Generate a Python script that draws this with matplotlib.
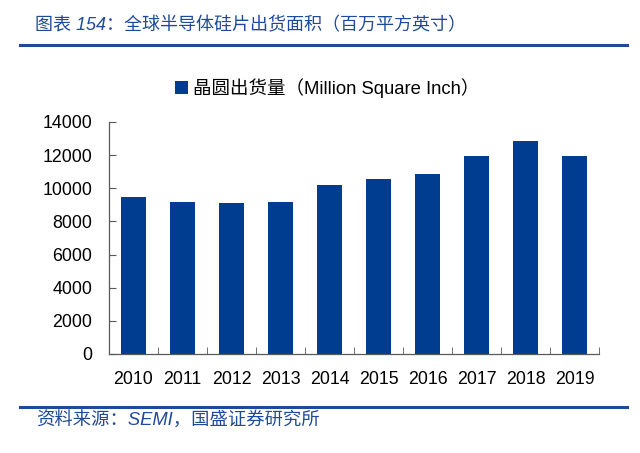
import numpy as np
import matplotlib
matplotlib.use("Agg")
import matplotlib.pyplot as plt
from matplotlib.lines import Line2D

years = ["2010", "2011", "2012", "2013", "2014", "2015", "2016", "2017", "2018", "2019"]
shipments = [9470, 9170, 9120, 9170, 10190, 10560, 10860, 11920, 12830, 11920]
yticks = [0, 2000, 4000, 6000, 8000, 10000, 12000, 14000]

title = "图表 154：全球半导体硅片出货面积（百万平方英寸）"
legend_label = "晶圆出货量（Million Square Inch）"
source = "资料来源：SEMI，国盛证券研究所"

fonts = ["Liberation Sans", "Noto Sans CJK SC"]
bar_color = "#003D91"
blue = "#1F4A9A"

fig = plt.figure(figsize=(6.4, 4.53), dpi=100)
ax = fig.add_axes([109 / 640, 1 - 354 / 453, 490 / 640, 232 / 453])

x = np.arange(len(years))
ax.bar(x, shipments, width=0.49, color=bar_color, label=legend_label)

ax.set_xlim(-0.5, len(years) - 0.5)
ax.set_ylim(0, 14000)
ax.set_yticks(yticks)
ax.set_xticks(x)
ax.set_xticklabels(years)
ax.set_xticks(np.arange(-0.5, len(years), 1), minor=True)

# ticks sit on the category boundaries, labels in the middle
ax.tick_params(axis="x", which="major", length=0, pad=12.5)
ax.tick_params(axis="x", which="minor", direction="in", length=5, color="#595959")
ax.tick_params(axis="y", direction="in", length=5, color="#595959", pad=12)
for lab in ax.get_xticklabels() + ax.get_yticklabels():
    lab.set_fontfamily(fonts)
    lab.set_fontsize(12.8)

for s in ["top", "right"]:
    ax.spines[s].set_visible(False)
for s in ["left", "bottom"]:
    ax.spines[s].set_color("#595959")
    ax.spines[s].set_linewidth(0.9)

leg = fig.legend(loc="center", bbox_to_anchor=(0.511, 1 - 88 / 453), frameon=False,
                 prop={"family": fonts, "size": 13.3}, handlelength=0.75, handleheight=0.75,
                 handletextpad=0.25)

fig.text(35 / 640, 1 - 26 / 453, title, color=blue, fontsize=13, style="italic",
         family=fonts, va="center", ha="left")
fig.text(36 / 640, 1 - 421 / 453, source, color=blue, fontsize=13.2, style="italic",
         family=fonts, va="center", ha="left")

fig.add_artist(Line2D([20 / 640, 627 / 640], [1 - 45 / 453] * 2, color=blue, lw=2.2,
                      transform=fig.transFigure))
fig.add_artist(Line2D([20 / 640, 627 / 640], [1 - 407 / 453] * 2, color=blue, lw=2.2,
                      transform=fig.transFigure))

fig.savefig("out.png", dpi=100)
